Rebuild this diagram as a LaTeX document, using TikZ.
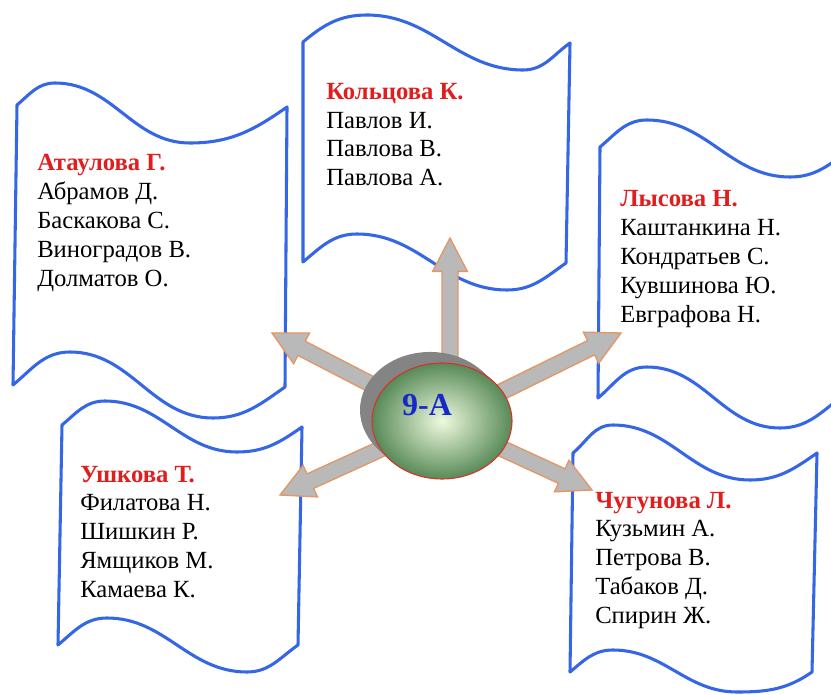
\documentclass[tikz,border=0pt]{standalone}
\usepackage{fontspec}
\setmainfont{Liberation Serif}
\usetikzlibrary{calc,shapes.geometric}
\definecolor{flagblue}{RGB}{52,102,230}
\definecolor{titlered}{RGB}{225,30,30}
\definecolor{arrowfill}{RGB}{185,185,185}
\definecolor{arroworange}{RGB}{228,150,100}
\definecolor{lblue}{RGB}{25,40,200}
\definecolor{extrude}{RGB}{132,132,132}
\definecolor{ballin}{RGB}{238,250,222}
\definecolor{ballout}{RGB}{88,138,88}
\definecolor{ballrim}{RGB}{215,50,40}
\tikzset{
  flagpath/.style={draw=flagblue, line width=2.3pt, fill=white, line join=round},
  ttl/.style={anchor=base west, font=\fontsize{18.5}{21}\selectfont\bfseries, text=titlered, inner sep=0pt},
  nm/.style={anchor=base west, font=\fontsize{18.5}{21}\selectfont, text=black, inner sep=0pt},
  barrow/.style={draw=arroworange, fill=arrowfill, line width=1pt, line join=miter},
}
\newcommand\myblockarrow[2]{%
  \coordinate (hb) at ($(#2)!25pt!(#1)$);
  \draw[barrow] ($(#1)!6pt!90:(#2)$) -- ($(hb)!6pt!90:(#2)$) -- ($(hb)!13pt!90:(#2)$) -- (#2)
    -- ($(hb)!13pt!-90:(#2)$) -- ($(hb)!6pt!-90:(#2)$) -- ($(#1)!6pt!-90:(#2)$) -- cycle;}
\begin{document}
\begin{tikzpicture}[x=0.75pt,y=-0.75pt]
\useasboundingbox (0,0) rectangle (831,695);
\clip (0,0) rectangle (831,695);
% flags
\draw[flagpath] (17,105) to[out=40,in=180] (55,83) to[out=0,in=180] (190,143) to[out=0,in=215] (287,107)
  -- (285,387) to[out=215,in=0] (213,418) to[out=180,in=0] (70,352) to[out=180,in=40] (13,385) -- cycle;
\draw[flagpath] (303,42) to[out=40,in=180] (367,15) to[out=0,in=180] (523,70) to[out=0,in=215] (570,43)
  -- (566,263) to[out=215,in=0] (507,290) to[out=180,in=0] (357,234) to[out=180,in=40] (303,262) -- cycle;
\draw[flagpath] (600,147) to[out=40,in=180] (647,120) to[out=0,in=180] (790,177) to[out=0,in=215] (850,150)
  -- (848,392) to[out=215,in=0] (780,428) to[out=180,in=0] (647,367) to[out=180,in=40] (598,398) -- cycle;
\draw[flagpath] (62,425) to[out=40,in=180] (105,401) to[out=0,in=180] (237,452) to[out=0,in=215] (302,427)
  -- (298,645) to[out=215,in=0] (247,672) to[out=180,in=0] (107,618) to[out=180,in=40] (58,645) -- cycle;
\draw[flagpath] (573,453) to[out=40,in=180] (613,425) to[out=0,in=180] (750,480) to[out=0,in=215] (817,453)
  -- (812,672) to[out=215,in=0] (737,692) to[out=180,in=0] (613,650) to[out=180,in=40] (570,672) -- cycle;
% texts
\node[ttl] (t1) at (37,171) {Атаулова Г.};
\foreach \s [count=\i] in {Абрамов Д., Баскакова С., Виноградов В., Долматов О.}
  \node[nm] (a\i) at (37,{171+28.8*\i}) {\s};
\node[ttl] (t2) at (326,100) {Кольцова К.};
\foreach \s [count=\i] in {Павлов И., Павлова В., Павлова А.}
  \node[nm] (b\i) at (326,{100+28.5*\i}) {\s};
\node[ttl] (t3) at (620,207) {Лысова Н.};
\foreach \s [count=\i] in {Каштанкина Н., Кондратьев С., Кувшинова Ю., Евграфова Н.}
  \node[nm] (d\i) at (620,{207+28.8*\i}) {\s};
\node[ttl] (t4) at (80,482) {Ушкова Т.};
\foreach \s [count=\i] in {Филатова Н., Шишкин Р., Ямщиков М., Камаева К.}
  \node[nm] (e\i) at (80,{482+28.8*\i}) {\s};
\node[ttl] (t5) at (595,508) {Чугунова Л.};
\foreach \s [count=\i] in {Кузьмин А., Петрова В., Табаков Д., Спирин Ж.}
  \node[nm] (f\i) at (595,{508+28.8*\i}) {\s};
% arrows
\coordinate (c0) at (442,421);
\coordinate (cu) at (450,421);
\coordinate (tU) at (450,238);
\coordinate (tUL) at (272,333);
\coordinate (tUR) at (621,333);
\coordinate (tLL) at (280,495);
\coordinate (tLR) at (592,490);
\myblockarrow{cu}{tU}
\myblockarrow{c0}{tUL}
\myblockarrow{c0}{tUR}
\myblockarrow{c0}{tLL}
\myblockarrow{c0}{tLR}
% central body
\foreach \k in {12,11,...,1}
  \fill[extrude] ($(c0)+({-\k},{-0.92*\k})$) ellipse [x radius=52.5pt, y radius=43.5pt];
\node[ellipse, minimum width=105pt, minimum height=87pt, inner sep=0pt,
      draw=ballrim, line width=0.8pt, inner color=ballin, outer color=ballout] (c) at (c0) {};
\node[font=\fontsize{24}{24}\selectfont\bfseries, text=lblue, inner sep=0pt] (lbl) at (427,405) {9-А};
\end{tikzpicture}
\end{document}
